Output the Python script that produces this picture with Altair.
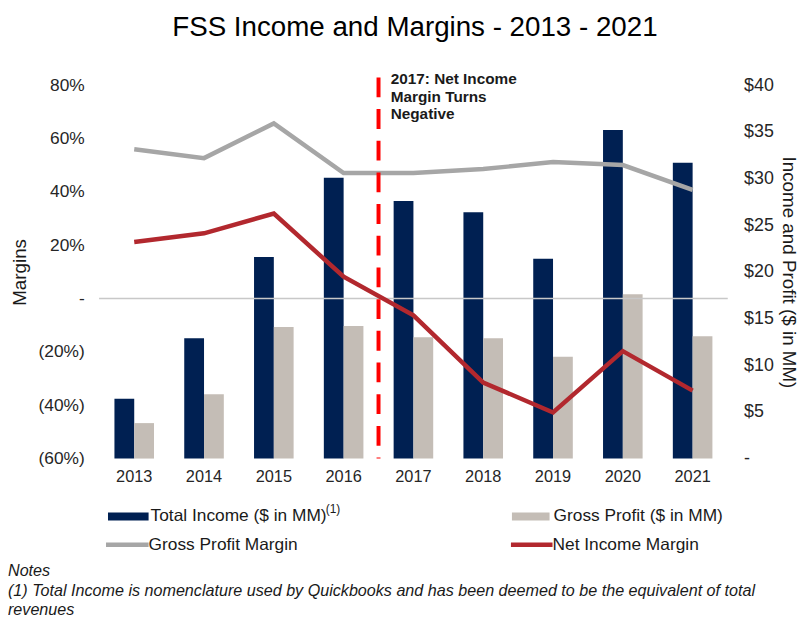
import altair as alt
import pandas as pd

# ---------------- data ----------------
years = ["2013", "2014", "2015", "2016", "2017", "2018", "2019", "2020", "2021"]
total_income = [6.4, 12.9, 21.6, 30.1, 27.6, 26.4, 21.4, 35.2, 31.7]      # $ in MM
gross_profit = [3.8, 6.9, 14.1, 14.2, 13.0, 12.9, 10.9, 17.6, 13.1]       # $ in MM
gross_margin = [0.560, 0.527, 0.657, 0.471, 0.471, 0.486, 0.512, 0.501, 0.408]
net_margin = [0.212, 0.245, 0.319, 0.082, -0.063, -0.315, -0.427, -0.197, -0.345]

bar_series = ["Total Income ($ in MM)", "Gross Profit ($ in MM)"]
line_series = ["Gross Profit Margin", "Net Income Margin"]
series_colors = ["#002052", "#c4bdb6", "#a6a6a6", "#b2282e"]

left_ticks = [-0.6, -0.4, -0.2, 0.0, 0.2, 0.4, 0.6, 0.8]
right_ticks = [0, 5, 10, 15, 20, 25, 30, 35, 40]

title_text = "FSS Income and Margins - 2013 - 2021"
left_title = "Margins"
right_title = "Income and Profit ($ in MM)"
annotation_year = "2017"
annotation_lines = ["2017: Net Income", "Margin Turns", "Negative"]
footnote_mark = "(1)"
notes_lines = [
    "Notes",
    "(1) Total Income is nomenclature used by Quickbooks and has been deemed to be the equivalent of total",
    "revenues",
]

# ---------------- layout ----------------
FONT = "Liberation Sans"
W, H = 635, 377
PI, PO = 0.433, 0.22
STEP = W / (len(years) - PI + 2 * PO)
HALF_GAP = STEP * PI / 2

x_axis = alt.Axis(labelAngle=0, domain=False, ticks=False, grid=False,
                  labelFont=FONT, labelFontSize=16.5, labelColor="#262626",
                  labelPadding=10)
x_scale = alt.Scale(paddingInner=PI, paddingOuter=PO)


def xenc(band=None):
    kw = dict(sort=years, title=None, axis=x_axis, scale=x_scale)
    if band is not None:
        kw["bandPosition"] = band
    return alt.X("year:N", **kw)


color_enc = alt.Color("series:N",
                      scale=alt.Scale(domain=bar_series + line_series, range=series_colors),
                      legend=None)

bars_df = pd.DataFrame({
    "year": years * 2,
    "series": [bar_series[0]] * len(years) + [bar_series[1]] * len(years),
    "value": total_income + gross_profit,
})
lines_df = pd.DataFrame({
    "year": years * 2,
    "series": [line_series[0]] * len(years) + [line_series[1]] * len(years),
    "value": gross_margin + net_margin,
})

right_axis = alt.Axis(orient="right", values=right_ticks,
                      labelExpr="datum.value == 0 ? '-' : '$' + datum.value",
                      title=right_title, domain=False, ticks=False, grid=False,
                      labelFont=FONT, labelFontSize=18, labelColor="#262626",
                      labelPadding=16, titleFont=FONT, titleFontSize=19,
                      titleFontWeight="normal", titleColor="#1a1a1a",
                      titlePadding=5)

bars = alt.Chart(bars_df).mark_bar().encode(
    x=xenc(),
    xOffset=alt.XOffset("series:N", sort=bar_series,
                        scale=alt.Scale(paddingInner=0, paddingOuter=0)),
    y=alt.Y("value:Q", title=right_title,
            scale=alt.Scale(domain=[0, 40], nice=False, zero=True),
            axis=right_axis),
    color=color_enc,
)

left_scale = alt.Scale(domain=[-0.6, 0.8], nice=False, zero=False)
left_label_expr = ("abs(datum.value) < 1e-9 ? '-' : (datum.value < 0 ? '(' + "
                   "format(-datum.value, '.0%') + ')' : format(datum.value, '.0%'))")
left_axis = alt.Axis(orient="left", values=left_ticks, labelExpr=left_label_expr,
                     title=left_title, domain=False, ticks=False, grid=False,
                     labelFont=FONT, labelFontSize=17.5, labelColor="#262626",
                     labelPadding=15, titleFont=FONT, titleFontSize=19,
                     titleFontWeight="normal", titleColor="#1a1a1a",
                     titlePadding=9)


def yleft():
    return alt.Y("value:Q", title=left_title, scale=left_scale, axis=left_axis)


zero_rule = alt.Chart(pd.DataFrame({"value": [0.0]})).mark_rule(
    color="#c8c8c8", strokeWidth=1.5
).encode(y=yleft(), x=alt.value(0), x2=alt.value(W))

lines = alt.Chart(lines_df).mark_line(strokeWidth=4.5).encode(
    x=xenc(), y=yleft(), color=color_enc,
)

dash_rule = alt.Chart(pd.DataFrame({"year": [annotation_year]})).mark_rule(
    color="#ff0000", strokeWidth=4, strokeDash=[20, 12], xOffset=-HALF_GAP
).encode(x=xenc(band=0), y=alt.value(-8), y2=alt.value(H))

annotation = alt.Chart(pd.DataFrame({"year": [annotation_year]})).mark_text(
    align="left", baseline="top", font=FONT, fontSize=15.5, fontWeight="bold",
    lineHeight=17.5, color="#1a1a1a", dx=-3
).encode(x=xenc(band=0), y=alt.value(-13), text=alt.value(annotation_lines))

margins_group = alt.layer(zero_rule, lines, dash_rule, annotation)

one = alt.Data(values=[{}])


def label(txt, x, y, size=17.5, **kw):
    return alt.Chart(one).mark_text(
        text=txt, font=FONT, fontSize=size, align=kw.pop("align", "left"),
        baseline=kw.pop("baseline", "middle"), color=kw.pop("color", "#1a1a1a"), **kw
    ).encode(x=alt.value(x), y=alt.value(y))


def swatch(color, x0, x1, y0, y1):
    return alt.Chart(one).mark_rect(color=color).encode(
        x=alt.value(x0), x2=alt.value(x1), y=alt.value(y0), y2=alt.value(y1))


def line_swatch(color, x0, x1, y):
    return alt.Chart(one).mark_rule(color=color, strokeWidth=4.5).encode(
        x=alt.value(x0), x2=alt.value(x1), y=alt.value(y))


legend_layers = [
    swatch(series_colors[0], 9, 50, 431.5, 439.5),
    label(bar_series[0], 52, 435),
    label(footnote_mark, 229, 428, size=12),
    swatch(series_colors[1], 417, 455, 431.5, 439.5),
    label(bar_series[1], 459, 435),
    line_swatch(series_colors[2], 7, 50, 464),
    label(line_series[0], 50, 464),
    line_swatch(series_colors[3], 416, 458, 464),
    label(line_series[1], 458, 464),
]

title_layer = label(title_text, 319, -50, size=28, align="center",
                    baseline="alphabetic", color="#000000")

notes_layers = [
    label(notes_lines[0], -92, 491, size=16.3, fontStyle="italic"),
    label(notes_lines[1], -92, 511, size=16.3, fontStyle="italic"),
    label(notes_lines[2], -92, 530, size=16.3, fontStyle="italic"),
]

chart = alt.layer(
    bars, margins_group, title_layer, *legend_layers, *notes_layers
).resolve_scale(y="independent").properties(
    width=W, height=H,
    autosize=alt.AutoSizeParams(type="none"),
    padding={"left": 92, "top": 75, "right": 77, "bottom": 163},
    background="white",
).configure_view(stroke=None)

chart.save("out.html", embed_options={"renderer": "svg", "actions": False})
